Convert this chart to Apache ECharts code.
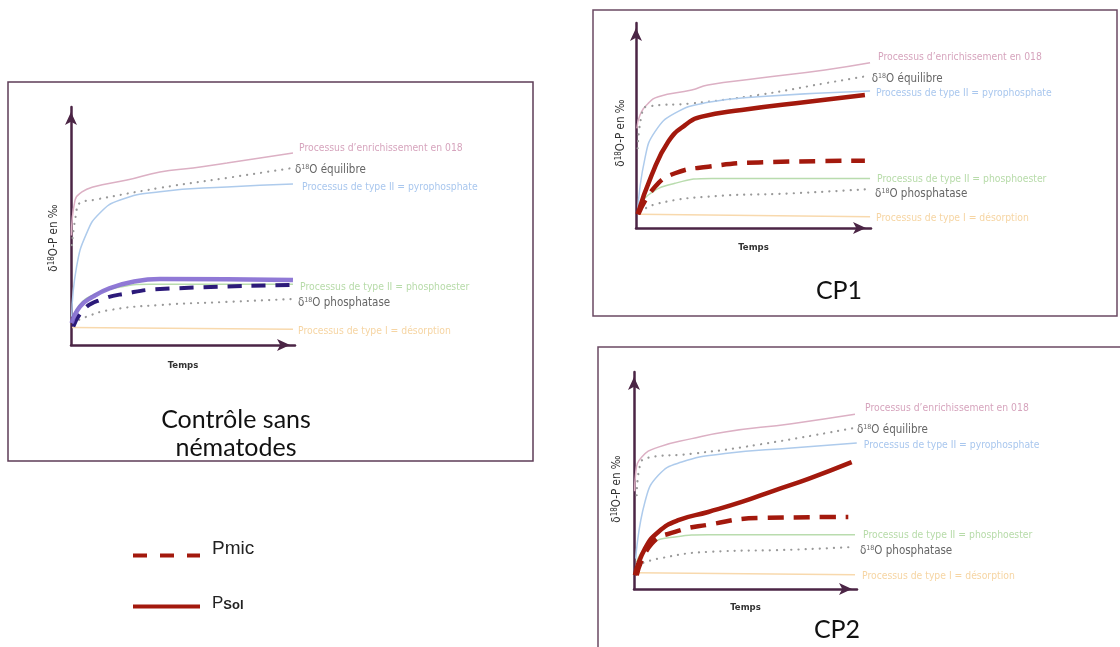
<!DOCTYPE html>
<html><head><meta charset="utf-8">
<script src="https://cdn.jsdelivr.net/npm/echarts@6/dist/echarts.min.js"></script>
<style>html,body{margin:0;padding:0;background:#fff}#c{width:1120px;height:647px}</style>
</head><body><div id="c"></div>
<script>
// ---------- texts ----------
const curveLabels = [
  "Processus d\u2019enrichissement en 018",
  "\u03b4{s|18}O \u00e9quilibre",
  "Processus de type II = pyrophosphate",
  "Processus de type II = phosphoester",
  "\u03b4{s|18}O phosphatase",
  "Processus de type I = d\u00e9sorption"
];
const panelTitles = ["Contr\u00f4le sans\nn\u00e9matodes", "CP1", "CP2"];
const legendNames = ["Pmic", "Psol"];
const xAxisName = "Temps";
const yAxisName = "\u03b4{s|18}O-P en \u2030";

// ---------- Contrôle sans nématodes ----------
const ctrlEnrich = [[0.2,46],[1.8,60.9],[4.9,64.3],[9.8,66.4],[25,69.3],[39.7,72.7],[54.5,74.4],[69.6,76.5],[84.4,78.6],[99.1,80.7]];
const ctrlEquil  = [[0.4,42],[2.2,54.6],[4,59.7],[9.8,60.9],[39.7,66],[69.6,70.2],[99.1,74.4]];
const ctrlPyro   = [[0.3,11.9],[2.5,32.9],[7,47],[12.9,55.5],[21.9,60.9],[39.7,64.4],[69.6,66.4],[99.1,67.6]];
const ctrlEster  = [[0.3,9.5],[4,17],[10,21],[20,24],[35,25.5],[99.1,25.5]];
const ctrlPhosph = [[0.9,9.2],[7,11.9],[17.4,14.7],[39.7,16.8],[69.6,18.1],[99.1,19.3]];
const ctrlDesorp = [[0.5,7.4],[99.1,6.6]];
const ctrlSolid  = [[0.3,9.2],[4,16.1],[9.8,20.3],[17.4,23.9],[27.7,26.6],[39.7,27.7],[99.1,27.3]];
const ctrlDash   = [[1,7.7],[5.5,14.7],[12.9,18.9],[24.9,21.7],[39.7,23.5],[99.1,25.2]];

// ---------- CP1 ----------
const cp1Enrich = [[0.4,48.6],[1.7,55.1],[5.2,60.8],[9.5,64],[23.7,67.3],[30.6,69.8],[52,73],[80.4,77.1],[99.6,80.6]];
const cp1Equil  = [[0.7,38.9],[2.4,55.1],[4.6,59.2],[23.7,60.8],[52,64.9],[80.4,70.6],[98.2,74.1]];
const cp1Pyro   = [[0.7,8],[3.8,34],[8.1,47],[16.6,56],[30.8,61.3],[52,64],[99.6,66.8]];
const cp1Ester  = [[0.9,8.8],[5.2,16.1],[16.6,21.8],[32.2,24.2],[99.6,24.2]];
const cp1Phosph = [[1.7,8],[9.5,12],[30.8,15.3],[66.3,16.9],[99.6,19]];
const cp1Desorp = [[0.9,6.7],[99.6,5.5]];
const cp1Psol   = [[0.7,6.7],[6.7,25.9],[13.7,42.1],[20.9,50.2],[28,54.3],[45,57.6],[73.3,61.6],[97.4,64.9]];
const cp1Pmic   = [[1,6.7],[8.1,20.1],[16.6,26.7],[30.8,29.9],[52,32],[97.4,32.8]];

// ---------- CP2 ----------
const cp2Enrich = [[0.3,45],[0.8,53.9],[3.5,60.8],[10.9,65.4],[25.9,69.3],[40.8,72.4],[70.7,76.2],[99.1,80.5]];
const cp2Equil  = [[1.2,43.2],[2.7,57],[5.7,60.4],[25.9,62.3],[55.7,66.5],[99.1,74.3]];
const cp2Pyro   = [[0.8,14],[4.9,40.1],[10.9,52.4],[21.4,58.5],[40.8,62.4],[70.7,65],[99.9,67.3]];
const cp2Ester  = [[1.2,12.4],[6.4,20.1],[18.4,24],[33.3,25],[99.1,25]];
const cp2Phosph = [[1.2,10.9],[10.9,14],[33.3,17.1],[70.7,18.1],[99.1,19.4]];
const cp2Desorp = [[1.2,7.5],[99.1,6.6]];
const cp2Psol   = [[0.4,6.3],[4.9,18.6],[10.9,26.3],[19.9,31.7],[33.3,35.5],[48.3,40.1],[63.2,45.5],[78.2,50.8],[97.6,58.5]];
const cp2Pmic   = [[1.2,6.3],[7.9,20.9],[18.4,26.3],[33.3,29.6],[55.7,32.7],[96.1,33.2]];

// ---------- styling ----------
const AXIS = '#4b2545';
const SMALL_FONT = "'DejaVu Sans Condensed', Roboto, sans-serif";
const TITLE_FONT = "Lato, 'Open Sans', sans-serif";
const LEG_FONT = "'Liberation Sans', Arial, sans-serif";
const thin = {
  enrich: {color:'#dcb0c4', width:1.5, type:'solid', label:'#d6a4bd'},
  equil:  {color:'#999999', width:2.2, type:[0.1,7], cap:'round', label:'#666666'},
  pyro:   {color:'#aecbec', width:1.5, type:'solid', label:'#a9c7ee'},
  ester:  {color:'#b9dcae', width:1.5, type:'solid', label:'#b7dba9'},
  phosph: {color:'#999999', width:2.2, type:[0.1,7], cap:'round', label:'#666666'},
  desorp: {color:'#f8d9ad', width:1.5, type:'solid', label:'#f6d5a3'}
};
const labelStyle = (st, gray) => ({
  fontFamily: SMALL_FONT, fontSize: gray ? 11.5 : 10.3, color: st.label,
  fontWeight: 'normal',
  rich: { s: { fontSize: 7, color: st.label, fontFamily: SMALL_FONT, verticalAlign:'top', padding:[0,0,6,0] } }
});

function thinSeries(g, key, data, labelIdx, offset) {
  const st = thin[key];
  const gray = (key === 'equil' || key === 'phosph');
  return {
    type:'line', xAxisIndex:g, yAxisIndex:g, data, smooth:0.5,
    symbol:'none', silent:true, z:2,
    lineStyle:{color:st.color, width:st.width, type:st.type, cap:st.cap || 'butt'},
    endLabel: Object.assign({show:true, distance:0, offset, formatter:() => curveLabels[labelIdx]}, labelStyle(st, gray))
  };
}
function boldSeries(g, name, data, color, dash, width) {
  return {
    type:'line', name, xAxisIndex:g, yAxisIndex:g, data, smooth:0.5,
    symbol:'none', silent:true, z:5,
    lineStyle:{color, width, type: dash || 'solid', cap:'butt'},
    itemStyle:{color}
  };
}

const grids = [
  {left:71, top:107, width:224, height:238},
  {left:636, top:23, width:235, height:205},
  {left:634, top:372, width:223, height:217}
];
const yGaps = [10, 8, 10];
const yShift = [24, 15, 17];
const xGaps = [16, 15, 14];

const xAxes = grids.map((g,i) => ({
  type:'value', gridIndex:i, min:0, max:100,
  axisLine:{show:true, onZero:false, symbol:['none','arrow'], symbolSize:[9,13], symbolOffset:[0,-5],
    lineStyle:{color:AXIS, width:2.5}},
  axisTick:{show:false}, axisLabel:{show:false}, splitLine:{show:false},
  name:xAxisName, nameLocation:'middle', nameGap:xGaps[i],
  nameTextStyle:{fontFamily:SMALL_FONT, fontSize:9.5, color:'#333', fontWeight:'bold'}
}));
const yAxes = grids.map((g,i) => ({
  type:'value', gridIndex:i, min:0, max:100,
  axisLine:{show:true, onZero:false, symbol:['none','arrow'], symbolSize:[9,13], symbolOffset:[0,-5],
    lineStyle:{color:AXIS, width:2.5}},
  axisTick:{show:false}, axisLabel:{show:false}, splitLine:{show:false},
  name:yAxisName, nameLocation:'middle', nameGap:yGaps[i],
  nameTextStyle:{fontFamily:SMALL_FONT, fontSize:11.5, color:'#333', padding:[0,yShift[i],0,0],
    rich:{s:{fontSize:8, color:'#333', fontFamily:SMALL_FONT, verticalAlign:'top', padding:[0,0,5,0]}}}
}));

const RED = '#a3190d';
const series = [
  // Contrôle
  thinSeries(0,'enrich',ctrlEnrich,0,[6,-5]),
  thinSeries(0,'equil', ctrlEquil, 1,[2,2]),
  thinSeries(0,'pyro',  ctrlPyro,  2,[9,3]),
  thinSeries(0,'ester', ctrlEster, 3,[7,3]),
  thinSeries(0,'phosph',ctrlPhosph,4,[5,4]),
  thinSeries(0,'desorp',ctrlDesorp,5,[5,2]),
  boldSeries(0,'Pmic (contrôle)',ctrlDash,'#2c1a7a',[14,10],4),
  boldSeries(0,'Psol (contrôle)',ctrlSolid,'rgba(132,106,210,0.9)',null,4.5),
  // CP1
  thinSeries(1,'enrich',cp1Enrich,0,[8,-5]),
  thinSeries(1,'equil', cp1Equil, 1,[5,3]),
  thinSeries(1,'pyro',  cp1Pyro,  2,[6,2]),
  thinSeries(1,'ester', cp1Ester, 3,[7,1]),
  thinSeries(1,'phosph',cp1Phosph,4,[5,5]),
  thinSeries(1,'desorp',cp1Desorp,5,[6,2]),
  boldSeries(1,'Pmic',cp1Pmic,RED,[16,10],4.5),
  boldSeries(1,'Psol',cp1Psol,RED,null,4.5),
  // CP2
  thinSeries(2,'enrich',cp2Enrich,0,[10,-6]),
  thinSeries(2,'equil', cp2Equil, 1,[2,2]),
  thinSeries(2,'pyro',  cp2Pyro,  2,[7,2]),
  thinSeries(2,'ester', cp2Ester, 3,[8,1]),
  thinSeries(2,'phosph',cp2Phosph,4,[5,4]),
  thinSeries(2,'desorp',cp2Desorp,5,[7,2]),
  boldSeries(2,'Pmic',cp2Pmic,RED,[16,10],4.5),
  boldSeries(2,'Psol',cp2Psol,RED,null,4.5)
];

const chart = echarts.init(document.getElementById('c'), null, {renderer:'canvas'});
chart.setOption({
  animation:false,
  backgroundColor:'#ffffff',
  grid:grids,
  xAxis:xAxes,
  yAxis:yAxes,
  title:[
    {text:panelTitles[0], left:231, top:401, textAlign:'center', textStyle:{fontFamily:TITLE_FONT, fontSize:25, fontWeight:'normal', color:'#111', lineHeight:28}},
    {text:panelTitles[1], left:834, top:273, textAlign:'center', textStyle:{fontFamily:TITLE_FONT, fontSize:25, fontWeight:'normal', color:'#111'}},
    {text:panelTitles[2], left:832, top:612, textAlign:'center', textStyle:{fontFamily:TITLE_FONT, fontSize:25, fontWeight:'normal', color:'#111'}}
  ],
  legend:{
    orient:'vertical', left:131, top:539, padding:0, itemWidth:67, itemHeight:14, itemGap:27,
    selectedMode:false,
    itemStyle:{opacity:0, borderWidth:0},
    data:[
      {name:legendNames[0], lineStyle:{type:[14,13], width:4, color:RED}, itemStyle:{opacity:0}},
      {name:legendNames[1], lineStyle:{type:'solid', width:4, color:RED}, itemStyle:{opacity:0}}
    ],
    formatter: n => n === 'Psol' ? '{p|P}{s|Sol}' : '{m|' + n + '}',
    textStyle:{fontFamily:LEG_FONT, fontSize:19, color:'#222', padding:[0,0,0,7], lineHeight:24,
      rich:{m:{fontSize:19, color:'#222', fontFamily:LEG_FONT, padding:[0,0,14,0]},
            p:{fontSize:17, color:'#222', fontFamily:LEG_FONT, padding:[0,0,6,0]},
            s:{fontSize:13, fontWeight:'bold', color:'#222', fontFamily:LEG_FONT, padding:[0,0,2,0]}}}
  },
  graphic:[
    {type:'rect', shape:{x:8, y:82, width:525, height:379}, style:{fill:'none', stroke:'#5e3d57', lineWidth:1.5}, silent:true},
    {type:'rect', shape:{x:593, y:10, width:524, height:306}, style:{fill:'none', stroke:'#6b4a63', lineWidth:1.5}, silent:true},
    {type:'rect', shape:{x:598, y:347, width:540, height:320}, style:{fill:'none', stroke:'#6b4a63', lineWidth:1.5}, silent:true}
  ],
  series
});
</script></body></html>
